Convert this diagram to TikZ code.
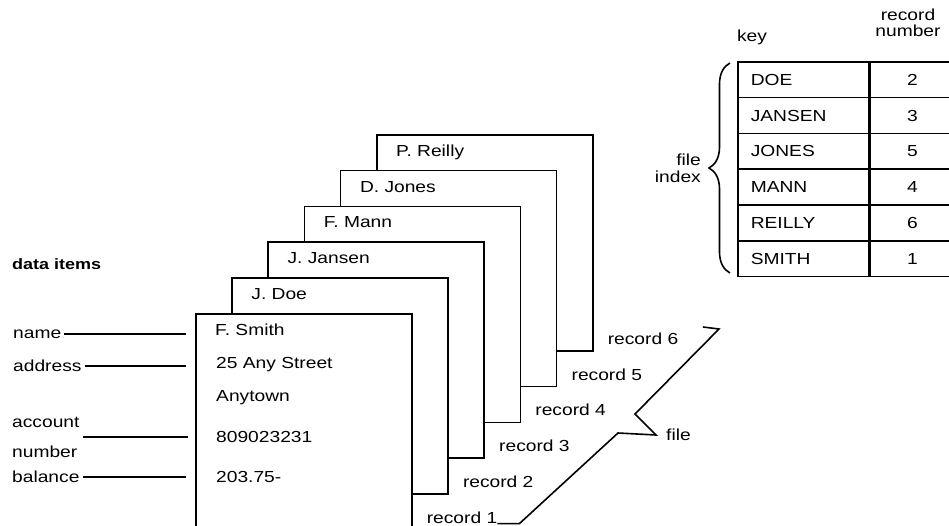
\documentclass[tikz,border=0pt]{standalone}
\usepackage{fontspec}
\setmainfont{Liberation Sans}[FakeStretch=1.2]
\usepackage{tikz}
\usetikzlibrary{positioning, decorations.pathreplacing}
\tikzstyle{record} = [rectangle, draw, fill=white, line width=1.6pt, minimum width=216pt, minimum height=216pt, anchor=north west, inner sep=0pt]
\tikzstyle{recname} = [inner sep=0pt, anchor=north west]
\tikzstyle{field} = [inner sep=0pt, anchor=west]
\tikzstyle{item} = [inner sep=3pt, anchor=west, align=left]
\tikzstyle{line} = [draw, line width=1.6pt]
\tikzstyle{keycell} = [draw, line width=1.6pt, anchor=north west, minimum height=35.8pt, text width=105pt, inner xsep=13pt, align=left]
\tikzstyle{numcell} = [draw, line width=1.6pt, anchor=north west, minimum height=35.8pt, minimum width=84pt]

\begin{document}
\begin{tikzpicture}[x=1pt, y=-1pt, font=\fontsize{16}{19}\selectfont]
    \useasboundingbox (0,0) rectangle (949,526);

    % Records, back to front
    \foreach \i/\nm in {6/P. Reilly, 5/D. Jones, 4/F. Mann, 3/J. Jansen, 2/J. Doe, 1/F. Smith} {
        \node [record] (rec\i) at ({195+36.2*(\i-1)}, {313-35.8*(\i-1)}) {};
        \node [recname, below right=11pt and 20pt of rec\i.north west] (nm\i) {\nm};
        \node [above right=7pt and 14pt of rec\i.south east, inner sep=0pt] (lrec\i) {record \i};
    }

    % Fields of the front record
    \node [field] (street) at (216,365) {25 Any Street};
    \node [field] (town) at (216,398) {Anytown};
    \node [field] (acct) at (216,437) {809023231};
    \node [field] (bal) at (216,477) {203.75-};

    % Data items
    \node [anchor=west, inner sep=0pt, font=\fontsize{15}{17}\selectfont\bfseries] (items) at (12,264) {data items};
    \node [item] (lname) at (10,334) {name};
    \node [item] (laddr) at (10,366) {address};
    \node [item] (lacct) at (9,437) {account\\[11pt]number};
    \node [item] (lbal) at (9,477) {balance};

    \path [line, shorten >=9pt] (lname) -- (lname -| rec1.west);
    \path [line, shorten >=9pt] (laddr) -- (laddr -| rec1.west);
    \path [line, shorten >=7pt] (lacct) -- (lacct -| rec1.west);
    \path [line, shorten >=9pt] (lbal) -- (lbal -| rec1.west);

    % File bracket
    \coordinate (filetip) at (656,435);
    \path [line] (lrec1.south east) -- ++(22,0) -- (618,433) -- (filetip) -- (635,414) -- (719,329) -- (703,327);
    \node [right=10pt of filetip, inner sep=0pt] (file) {file};

    % File index
    \foreach \k/\n [count=\r] in {DOE/2, JANSEN/3, JONES/5, MANN/4, REILLY/6, SMITH/1} {
        \node [keycell] (key\r) at (737, {61+35.8*(\r-1)}) {\k};
        \node [numcell] (num\r) at (key\r.north east) {\n};
    }
    \node [anchor=south, inner sep=0pt] (keyhead) at (752,45) {key};
    \node [align=center, inner sep=0pt, font=\fontsize{16}{16}\selectfont] (numhead) at (908,23) {record\\number};

    \coordinate (idxtip) at (707,168);
    \draw [line width=1.6pt, decorate, decoration={brace, amplitude=21pt}] (730,273) -- (730,63);
    \node [left=6pt of idxtip, align=right, inner sep=0pt, font=\fontsize{16}{17}\selectfont] (idx) {file\\index};
\end{tikzpicture}
\end{document}
